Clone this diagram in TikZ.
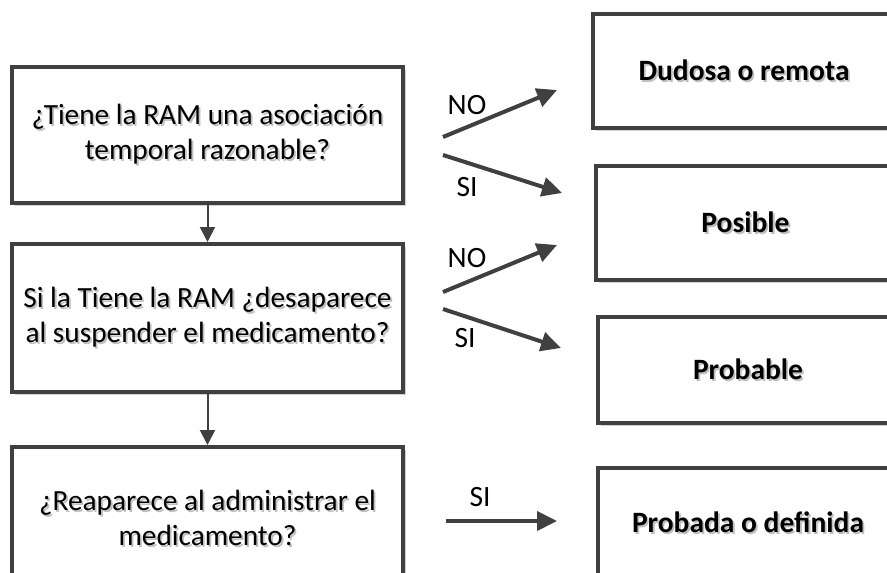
\documentclass[tikz,border=0pt]{standalone}
\usepackage{fontspec}
\setmainfont{Carlito}
\usetikzlibrary{arrows.meta,shadows}
\definecolor{edge}{HTML}{404040}
\definecolor{txtshade}{HTML}{C0C0C0}
\newcommand{\shtxt}[1]{\makebox[0pt][l]{\hspace{1.8pt}\raisebox{-1.8pt}{\textcolor{txtshade}{#1}}}#1}
\begin{document}
\begin{tikzpicture}[x=1pt,y=-1pt,
  box/.style={draw=edge, line width=4pt, fill=white,
    drop shadow={shadow xshift=2.5pt, shadow yshift=-2.5pt, fill=black!18, opacity=1},
    inner sep=0pt, align=center, font=\fontsize{29.3}{35}\selectfont},
  qbox/.style={box, minimum width=391pt},
  rbox/.style={box, font=\fontsize{29.5}{35}\selectfont\bfseries},
  sidearrow/.style={draw=edge, line width=4pt, -{Triangle[length=20pt,width=19pt]}},
  downarrow/.style={draw=edge, line width=2pt, -{Triangle[length=15pt,width=15pt]}},
  lbl/.style={inner sep=0pt, font=\fontsize{29.5}{34}\selectfont}]
\useasboundingbox (0,0) rectangle (887,573);
\clip (0,0) rectangle (887,573);
\fill[white] (0,0) rectangle (887,573);

% question boxes
\node[qbox, minimum height=136pt] (q1) at (207.5,135)
  {\shtxt{¿Tiene la RAM una asociación}\\\shtxt{temporal razonable?}};
\node[qbox, minimum height=148pt] (q2) at (207.5,318)
  {\shtxt{Si la Tiene la RAM ¿desaparece}\\\shtxt{al suspender el medicamento?}};
\node[qbox, minimum height=144pt] (q3) at (207.5,519)
  {\shtxt{¿Reaparece al administrar el}\\\shtxt{medicamento?}};

% result boxes
\node[rbox, minimum width=302pt, minimum height=114pt] (r1) at (744,71) {\shtxt{Dudosa o remota}};
\node[rbox, minimum width=299pt, minimum height=114pt] (r2) at (745.5,223) {\shtxt{Posible}};
\node[rbox, minimum width=300pt, minimum height=106pt] (r3) at (748,370) {\shtxt{Probable}};
\node[rbox, minimum width=300pt, minimum height=110pt] (r4) at (748,523) {\shtxt{Probada o definida}};

% vertical connectors
\draw[downarrow] (q1.south) -- (q2.north);
\draw[downarrow] (q2.south) -- (q3.north);

% side connectors
\coordinate (a1s) at (443,137); \coordinate (a1e) at (557,90);
\coordinate (a2s) at (443,155); \coordinate (a2e) at (562,193);
\coordinate (a3s) at (443,292); \coordinate (a3e) at (557,245);
\coordinate (a4s) at (443,309); \coordinate (a4e) at (561,348);
\coordinate (a5s) at (446,521); \coordinate (a5e) at (557,521);
\draw[sidearrow] (a1s) -- (a1e);
\draw[sidearrow] (a2s) -- (a2e);
\draw[sidearrow] (a3s) -- (a3e);
\draw[sidearrow] (a4s) -- (a4e);
\draw[sidearrow] (a5s) -- (a5e);

\node[lbl] (l1) at (467,105) {NO};
\node[lbl] (l2) at (467,187) {SI};
\node[lbl] (l3) at (467,258) {NO};
\node[lbl] (l4) at (465,338) {SI};
\node[lbl] (l5) at (480,497) {SI};
\end{tikzpicture}
\end{document}
